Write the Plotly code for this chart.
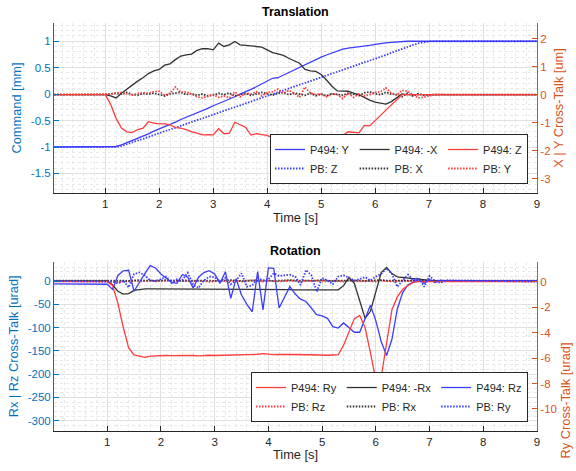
import plotly.graph_objects as go

FONT = "Liberation Sans, Arial, Helvetica, sans-serif"
BLUE_AX = "rgb(0,114,189)"
ORANGE_AX = "rgb(217,83,25)"
DARK = "rgb(38,38,38)"
GRID = "rgb(224,224,224)"
MINOR = "rgb(232,232,232)"
C_BLUE = "rgb(60,60,255)"
C_RED = "rgb(255,60,60)"
C_BLACK = "rgb(50,50,50)"

# ---------------- sample times [s] ----------------
time_s = [0.0,
          1.0, 1.1, 1.2, 1.3, 1.4, 1.5, 1.6, 1.7, 1.8, 1.9,
          2.0, 2.1, 2.2, 2.3, 2.4, 2.5, 2.6, 2.7, 2.8, 2.9,
          3.0, 3.1, 3.2, 3.3, 3.4, 3.5, 3.6, 3.7, 3.8, 3.9,
          4.0, 4.1, 4.2, 4.3, 4.4, 4.5, 4.6, 4.7, 4.8, 4.9,
          5.0, 5.1, 5.2, 5.3, 5.4, 5.5, 5.6, 5.7, 5.8, 5.9,
          6.0, 6.1, 6.2, 6.3, 6.4, 6.5, 6.6, 6.7, 6.8, 6.9,
          7.0, 7.1, 7.2, 7.3,
          9.0]

# ---------------- Translation ----------------
p494_y_mm = [-1,
             -1, -1, -0.99, -0.96, -0.92, -0.88, -0.84, -0.79, -0.75, -0.70,
             -0.66, -0.61, -0.57, -0.53, -0.48, -0.44, -0.40, -0.35, -0.31, -0.27,
             -0.22, -0.18, -0.13, -0.09, -0.05, 0.0, 0.04, 0.09, 0.14, 0.19,
             0.25, 0.30, 0.31, 0.36, 0.41, 0.46, 0.51, 0.56, 0.61, 0.66,
             0.70, 0.74, 0.78, 0.82, 0.85, 0.87, 0.88, 0.89, 0.90, 0.92,
             0.94, 0.96, 0.97, 0.98, 0.99, 1.0, 1.0, 1.0, 1.0, 1.0,
             1.0, 1.0, 1.0, 1.0,
             1.0]
pb_z_mm = [-1,
           -1, -1, -1, -0.98, -0.95, -0.92, -0.88, -0.845, -0.81, -0.775,
           -0.74, -0.705, -0.67, -0.635, -0.60, -0.565, -0.53, -0.495, -0.46, -0.425,
           -0.39, -0.355, -0.32, -0.285, -0.25, -0.215, -0.18, -0.145, -0.11, -0.075,
           -0.04, -0.005, 0.03, 0.065, 0.10, 0.135, 0.17, 0.205, 0.24, 0.275,
           0.31, 0.345, 0.38, 0.415, 0.45, 0.485, 0.52, 0.555, 0.59, 0.625,
           0.66, 0.70, 0.74, 0.78, 0.82, 0.86, 0.90, 0.93, 0.96, 0.98,
           0.995, 1.0, 1.0, 1.0,
           1.0]
p494_negx_um = [0,
                0, -0.05, -0.12, 0.05, 0.2, 0.35, 0.48, 0.6, 0.75, 0.85,
                0.9, 1.05, 1.1, 1.25, 1.38, 1.42, 1.45, 1.58, 1.64, 1.64,
                1.6, 1.84, 1.72, 1.78, 1.9, 1.78, 1.76, 1.75, 1.74, 1.7,
                1.6, 1.5, 1.46, 1.4, 1.3, 1.2, 1.12, 0.9, 0.85, 0.83,
                0.72, 0.52, 0.3, 0.13, 0.12, 0.12, 0.05, 0.0, -0.1, -0.2,
                -0.27, -0.31, -0.34, -0.25, -0.1, 0.02, 0.0, 0.0, 0.0, 0.0,
                0, 0, 0, 0,
                0]
p494_z_um = [0,
             0, -0.35, -0.85, -1.2, -1.33, -1.36, -1.25, -1.2, -0.97, -1.02,
             -1.05, -1.05, -1.08, -1.18, -1.2, -1.25, -1.33, -1.38, -1.44, -1.43,
             -1.44, -1.22, -1.4, -1.38, -0.99, -1.08, -1.17, -1.45, -1.4, -1.43,
             -1.46, -1.55, -1.64, -1.52, -1.44, -1.6, -1.76, -1.7, -1.64, -1.6,
             -1.53, -1.85, -1.46, -1.6, -1.48, -1.33, -1.35, -1.37, -1.1, -1.12,
             -0.93, -0.75, -0.57, -0.39, -0.2, 0.0, 0.0, 0.0, 0.0, 0.0,
             0, 0, 0, 0,
             0]
pb_x_um = [0,
           0, 0.03, 0.05, 0.02, 0.08, 0.0, -0.02, 0.04, 0.02, 0.05,
           0.0, -0.05, 0.03, 0.06, 0.08, 0.0, 0.04, -0.03, 0.02, -0.05,
           -0.02, 0.05, 0.0, 0.06, -0.05, 0.0, 0.04, -0.03, 0.02, 0.08,
           0.03, -0.02, 0.05, 0.07, 0.0, 0.05, 0.02, -0.03, 0.05, -0.04,
           0.02, -0.05, 0.03, 0.0, -0.02, 0.05, 0.02, -0.04, 0.06, 0.1,
           0.03, 0.0, 0.08, 0.02, 0.0, -0.08, 0.05, -0.05, 0.03, -0.02,
           0.0, 0.0, 0.0, 0.0,
           0]
pb_y_um = [0,
           0, 0.02, 0.05, 0.08, 0.03, -0.02, 0.04, 0.06, 0.05, 0.1,
           0.12, -0.03, 0.05, 0.27, 0.08, 0.1, 0.02, -0.08, -0.12, -0.05,
           0.0, -0.1, -0.05, -0.12, 0.1, -0.08, 0.05, 0.02, 0.1, -0.05,
           0.08, 0.1, 0.2, 0.05, 0.15, 0.05, -0.1, 0.27, 0.05, 0.0,
           0.02, -0.08, 0.03, 0.0, -0.14, 0.05, -0.1, 0.02, -0.05, 0.0,
           0.08, 0.1, 0.24, 0.05, -0.02, 0.15, 0.12, 0.0, -0.12, -0.1,
           -0.05, 0.0, 0.01, 0.0,
           0]

# ---------------- Rotation ----------------
p494_ry_urad = [0,
                0, -0.3, -1.7, -3.6, -5.2, -5.75, -5.85, -5.95, -5.85, -5.82,
                -5.82, -5.8, -5.81, -5.8, -5.82, -5.81, -5.8, -5.83, -5.8, -5.78,
                -5.8, -5.79, -5.76, -5.78, -5.78, -5.77, -5.76, -5.75, -5.7, -5.66,
                -5.72, -5.73, -5.72, -5.7, -5.72, -5.72, -5.75, -5.74, -5.74, -5.76,
                -5.77, -5.78, -5.76, -5.74, -5.0, -4.0, -2.9, -2.65, -3.6, -5.6,
                -7.7, -7.5, -5.0, -2.2, -1.2, -0.6, -0.3, -0.05, 0.0, 0.0,
                0, 0, 0, 0,
                0]
p494_negrx_urad = [0,
                   0, -8, -22, -28, -27, -20, -18, -17, -17, -17,
                   -17, -17, -17, -17, -17.5, -17, -17, -17, -17.5, -17.5,
                   -17.5, -17.5, -17.5, -18, -18, -18, -18, -18, -18, -18,
                   -18, -18.5, -18.5, -18.5, -18.5, -19, -19, -19, -19, -19,
                   -19, -19, -19, -19, -10, 8, -5, -45, -80, -65,
                   -22, 18, 29, 16, 9, 7.5, 6, 4.5, 3, 1.5,
                   0.5, 0, 0, 0,
                   0]
p494_rz_urad = [-6,
                -7, -18, 12, 22, 23, -22, -2, 16, 33, 28,
                15, 5, -3, -5, 14, 8, -15, 8, 18, 22,
                15, -5, 20, -37, 5, -30, -50, -66, 20, -62,
                28, 27, -58, -35, -12, -28, -39, -44, -58, -72,
                -75, -80, -98, -101, -90, -100, -110, -110, -80, -52,
                -85, -130, -160, -125, -60, -25, -8, -2, 3, -5,
                3, -3, 2, 0,
                0]
pb_rz_urad = [0,
              0, -1, -3, -2, 0, 1, -1, 0, 1, -1,
              0, 1, -1, 0, 2, 0, -1, 1, 0, -2,
              0, 1, -1, 0, 1, -1, 0, 2, 0, -1,
              1, 0, -1, 0, 1, 0, -2, 1, 0, 1,
              0, -1, 1, 0, -1, 2, 0, -1, 1, 0,
              -1, 1, 0, -1, 0, 1, 0, 0, 0, 0,
              0, 0, 0, 0,
              0]
pb_rx_urad = [1,
              1, 1, 2, 1, 0, 1, 2, 1, 1, 0,
              1, 2, 1, 1, 0, 1, 1, 2, 1, 1,
              0, 1, 1, 2, 1, 0, 1, 1, 2, 1,
              1, 0, 1, 1, 2, 1, 1, 0, 1, 1,
              2, 1, 0, 1, 1, 1, 2, 1, 0, 1,
              1, 2, 1, 1, 0, 1, 1, 1, 1, 1,
              1, 1, 1, 1,
              1]
pb_ry_urad = [0.05,
              0.05, 0.0, -0.15, 0.1, -0.45, 0.6, 0.72, 0.5, 0.1, 0.05,
              0.2, 0.4, -0.1, 0.2, 0.15, 0.7, -0.25, -0.5, 0.1, 0.4,
              0.35, 0.0, 0.3, -0.2, 0.1, 0.66, -0.4, -0.3, 0.3, 0.1,
              0.2, 0.66, 0.45, 0.5, 0.55, 0.4, -0.26, 0.92, 0.5, -0.79,
              0.3, 0.1, -0.2, 0.4, 0.5, 0.3, 0.1, 0.2, 0.35, 0.1,
              0.4, 0.6, 1.05, 0.6, -0.4, 0.1, 0.55, 0.1, 0.3, -0.4,
              0.45, 0.05, -0.1, 0.1,
              0.0]

# ---------------- tick labels ----------------
x_ticks = [1, 2, 3, 4, 5, 6, 7, 8, 9]
x_labels = ["1", "2", "3", "4", "5", "6", "7", "8", "9"]
cmd_ticks = [-1.5, -1, -0.5, 0, 0.5, 1]
cmd_labels = ["-1.5", "-1", "-0.5", "0", "0.5", "1"]
xy_ticks = [-3, -2, -1, 0, 1, 2]
xy_labels = ["-3", "-2", "-1", "0", "1", "2"]
rxrz_ticks = [-300, -250, -200, -150, -100, -50, 0]
rxrz_labels = ["-300", "-250", "-200", "-150", "-100", "-50", "0"]
ry_ticks = [-10, -8, -6, -4, -2, 0]
ry_labels = ["-10", "-8", "-6", "-4", "-2", "0"]

DOT = "1.5px,1.5px"

fig = go.Figure()

def add(y, name, color, dash, xa, ya, group, legend):
    fig.add_trace(go.Scatter(
        x=time_s, y=y, name=name, mode="lines",
        line=dict(color=color, width=1.8 if dash else 1.3, dash=DOT if dash else "solid"),
        xaxis=xa, yaxis=ya, legendgroup=group, legend=legend, hoverinfo="skip"))

# translation (grouped legend columns)
add(p494_y_mm, "P494: Y", C_BLUE, False, "x", "y", "t1", "legend")
add(pb_z_mm, "PB: Z", C_BLUE, True, "x", "y", "t1", "legend")
add(p494_negx_um, "P494: -X", C_BLACK, False, "x", "y2", "t2", "legend")
add(pb_x_um, "PB: X", C_BLACK, True, "x", "y2", "t2", "legend")
add(p494_z_um, "P494: Z", C_RED, False, "x", "y2", "t3", "legend")
add(pb_y_um, "PB: Y", C_RED, True, "x", "y2", "t3", "legend")

# rotation
add(p494_ry_urad, "P494: Ry", C_RED, False, "x2", "y4", "r1", "legend2")
add(pb_rz_urad, "PB: Rz", C_RED, True, "x2", "y3", "r1", "legend2")
add(p494_negrx_urad, "P494: -Rx", C_BLACK, False, "x2", "y3", "r2", "legend2")
add(pb_rx_urad, "PB: Rx", C_BLACK, True, "x2", "y3", "r2", "legend2")
add(p494_rz_urad, "P494: Rz", C_BLUE, False, "x2", "y3", "r3", "legend2")
add(pb_ry_urad, "PB: Ry", C_BLUE, True, "x2", "y4", "r3", "legend2")

tickfont = dict(family=FONT, size=11.5)
titlefont = dict(family=FONT, size=12.8)

def xaxis(anchor, rng):
    return dict(anchor=anchor, domain=[0, 1], range=rng,
                tickvals=x_ticks, ticktext=x_labels,
                ticks="inside", ticklen=5, tickcolor=DARK,
                showline=True, linecolor=DARK, linewidth=1,
                showgrid=True, gridcolor=GRID, gridwidth=1, zeroline=False,
                minor=dict(dtick=0.2, showgrid=True, gridcolor=MINOR, griddash="dot", gridwidth=1),
                tickfont=dict(tickfont, color=DARK),
                title=dict(text="Time [s]", font=dict(titlefont, color=DARK), standoff=3))

def yleft(anchor, dom, rng, tv, tt, minor_dt, title):
    return dict(anchor=anchor, domain=dom, range=rng, tickvals=tv, ticktext=tt,
                ticks="inside", ticklen=5, tickcolor=BLUE_AX,
                showline=True, linecolor=BLUE_AX, linewidth=1,
                showgrid=True, gridcolor=GRID, gridwidth=1, zeroline=False,
                minor=dict(dtick=minor_dt, showgrid=True, gridcolor=MINOR, griddash="dot", gridwidth=1),
                tickfont=dict(tickfont, color=BLUE_AX),
                title=dict(text=title, font=dict(titlefont, color=BLUE_AX), standoff=6))

def yright(overlay, anchor, rng, tv, tt, title):
    d = dict(overlaying=overlay, anchor=anchor, side="right", range=rng,
             tickvals=tv, ticktext=tt, ticks="inside", ticklen=5, tickcolor=ORANGE_AX,
             showline=True, linecolor=ORANGE_AX, linewidth=1,
             showgrid=False, zeroline=False,
             tickfont=dict(tickfont, color=ORANGE_AX))
    if title:
        d["title"] = dict(text=title, font=dict(titlefont, color=ORANGE_AX), standoff=4)
    return d

top_dom = [0.5833, 1.0]
bot_dom = [0.0, 0.415]

legend_style = dict(orientation="h", traceorder="grouped", xanchor="right", yanchor="bottom",
                    bgcolor="white", bordercolor=DARK, borderwidth=1,
                    font=dict(family=FONT, size=11, color=DARK),
                    itemwidth=30, tracegroupgap=0)

fig.update_layout(
    width=576, height=471,
    margin=dict(l=54, r=39, t=23, b=40),
    paper_bgcolor="white", plot_bgcolor="white",
    font=dict(family=FONT, color=DARK),
    showlegend=True,
    xaxis=xaxis("y", [0.05, 9]),
    xaxis2=xaxis("y3", [0.01, 9]),
    yaxis=yleft("x", top_dom, [-1.87, 1.345], cmd_ticks, cmd_labels, 0.1, "Command [mm]"),
    yaxis2=yright("y", "x", [-3.52, 2.56], xy_ticks, xy_labels, "X | Y Cross-Talk [um]"),
    yaxis3=yleft("x2", bot_dom, [-322, 41.5], rxrz_ticks, rxrz_labels, 10, "Rx | Rz Cross-Talk [urad]"),
    yaxis4=yright("y3", "x2", [-11.73, 1.57], ry_ticks, ry_labels, None),
    legend=dict(legend_style, x=0.9814, y=0.6054),
    legend2=dict(legend_style, x=0.9814, y=0.022),
    annotations=[
        dict(text="<b>Translation</b>", xref="paper", yref="paper", x=0.5, y=1.027,
             xanchor="center", yanchor="middle", showarrow=False,
             font=dict(family=FONT, size=12.5, color="black")),
        dict(text="<b>Rotation</b>", xref="paper", yref="paper", x=0.5, y=0.441,
             xanchor="center", yanchor="middle", showarrow=False,
             font=dict(family=FONT, size=12.5, color="black")),
        dict(text="Ry Cross-Talk [urad]", xref="paper", yref="paper", x=1.058, y=0.075,
             xanchor="center", yanchor="middle", textangle=-90, showarrow=False,
             font=dict(titlefont, color=ORANGE_AX)),
    ],
)

fig.write_html("out.html")
